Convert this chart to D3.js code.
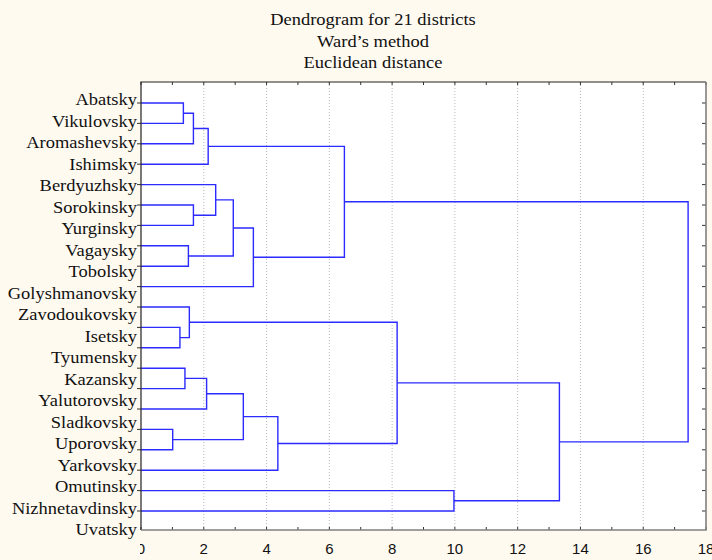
<!DOCTYPE html>
<html><head><meta charset="utf-8">
<script src="https://cdn.jsdelivr.net/npm/d3@7"></script>
<style>html,body{margin:0;padding:0;background:#fffaf0;} svg{display:block}</style>
</head><body><svg id="chart" width="712" height="560"></svg>
<script>
const titleLines = ["Dendrogram for 21 districts", "Ward\u2019s method", "Euclidean distance"];
const districts = ["Abatsky","Vikulovsky","Aromashevsky","Ishimsky","Berdyuzhsky","Sorokinsky","Yurginsky","Vagaysky","Tobolsky","Golyshmanovsky","Zavodoukovsky","Isetsky","Tyumensky","Kazansky","Yalutorovsky","Sladkovsky","Uporovsky","Yarkovsky","Omutinsky","Nizhnetavdinsky","Uvatsky"];
// linkage: node ids 0..20 are leaves, 21+k is the cluster formed by merge k
const mergeLeft   = [0, 21, 22, 5, 4, 7, 25, 27, 23, 11, 10, 13, 32, 16, 33, 35, 31, 19, 37, 29];
const mergeRight  = [1, 2, 3, 6, 24, 8, 26, 9, 28, 12, 30, 14, 15, 17, 34, 18, 36, 20, 38, 39];
const mergeHeight = [1.35, 1.67, 2.14, 1.67, 2.38, 1.51, 2.94, 3.58, 6.48, 1.24, 1.54, 1.40, 2.09, 1.01, 3.26, 4.36, 8.16, 9.97, 13.33, 17.43];
const xTicks = d3.range(0, 19);
const xTickLabels = [0, 2, 4, 6, 8, 10, 12, 14, 16, 18];

const svg = d3.select("#chart");
const W = 712, H = 560;
const plot = {left: 141, right: 706, top: 82, bottom: 530};

svg.append("rect").attr("width", W).attr("height", H).attr("fill", "#fffaf0");

const x = d3.scaleLinear().domain([0, 18]).range([plot.left, plot.right]);
const yLeaf = d3.scalePoint().domain(d3.range(districts.length)).range([103, 511]);
const yLabel = d3.scalePoint().domain(districts).range([105, 535]);

// plot background
svg.append("rect").attr("x", plot.left).attr("y", plot.top)
  .attr("width", plot.right - plot.left).attr("height", plot.bottom - plot.top)
  .attr("fill", "#ffffff");

// grid
svg.append("g").selectAll("line").data(xTickLabels.filter(v => v > 0 && v < 18)).join("line")
  .attr("x1", d => x(d)).attr("x2", d => x(d))
  .attr("y1", plot.top).attr("y2", plot.bottom)
  .attr("stroke", "#b8b8b8").attr("stroke-width", 1).attr("stroke-dasharray", "1,2");

// title
const title = svg.append("g");
titleLines.forEach((t, i) => {
  title.append("text")
    .attr("transform", `translate(373,${25 + i * 21.5}) scale(1.12,1)`)
    .attr("text-anchor", "middle")
    .attr("font-family", "'Liberation Serif', 'Times New Roman', serif")
    .attr("font-size", 16.5).attr("fill", "#111").text(t);
});

// dendrogram
const nLeaf = districts.length;
const pos = [], hgt = [];
for (let i = 0; i < nLeaf; i++) { pos[i] = yLeaf(i); hgt[i] = 0; }
mergeHeight.forEach((h, k) => {
  const a = mergeLeft[k], b = mergeRight[k];
  pos[nLeaf + k] = (pos[a] + pos[b]) / 2;
  hgt[nLeaf + k] = h;
});
const links = mergeHeight.map((h, k) => ({a: mergeLeft[k], b: mergeRight[k], h}));
svg.append("g").selectAll("path").data(links).join("path")
  .attr("d", d => `M${x(hgt[d.a])},${pos[d.a]}H${x(d.h)}V${pos[d.b]}H${x(hgt[d.b])}`)
  .attr("fill", "none").attr("stroke", "#2b2bff").attr("stroke-width", 1.4);

// left ticks (outward) and right ticks (inward)
const tk = svg.append("g").attr("stroke", "#333").attr("stroke-width", 1);
d3.range(nLeaf).forEach(i => {
  tk.append("line").attr("x1", plot.left - 4).attr("x2", plot.left).attr("y1", yLeaf(i)).attr("y2", yLeaf(i));
  tk.append("line").attr("x1", plot.right - 4).attr("x2", plot.right).attr("y1", yLeaf(i)).attr("y2", yLeaf(i));
});
// top & bottom ticks (inward)
xTicks.forEach(v => {
  tk.append("line").attr("x1", x(v)).attr("x2", x(v)).attr("y1", plot.top).attr("y2", plot.top + 3);
  tk.append("line").attr("x1", x(v)).attr("x2", x(v)).attr("y1", plot.bottom - 3).attr("y2", plot.bottom);
});

// frame
svg.append("path").attr("d", `M${plot.left},${plot.bottom}V${plot.top}H${plot.right}`)
  .attr("fill", "none").attr("stroke", "#222").attr("stroke-width", 1.2);
svg.append("path").attr("d", `M${plot.left},${plot.bottom}H${plot.right}V${plot.top}`)
  .attr("fill", "none").attr("stroke", "#808080").attr("stroke-width", 1.6);

// left labels
svg.append("g").selectAll("text").data(districts).join("text")
  .attr("transform", d => `translate(137,${yLabel(d)}) scale(1.12,1)`)
  .attr("text-anchor", "end")
  .attr("font-family", "'Liberation Serif', 'Times New Roman', serif")
  .attr("font-size", 16.5).attr("fill", "#111").text(d => d);

// bottom tick labels (clipped at the plot's left edge like the original)
svg.append("clipPath").attr("id", "xlabclip").append("rect")
  .attr("x", plot.left - 1).attr("y", plot.bottom).attr("width", W).attr("height", H - plot.bottom);
svg.append("g").attr("clip-path", "url(#xlabclip)").selectAll("text").data(xTickLabels).join("text")
  .attr("x", d => x(d)).attr("y", 554)
  .attr("text-anchor", "middle")
  .attr("font-family", "'Liberation Sans', Arial, sans-serif")
  .attr("font-size", 15).attr("fill", "#111").text(d => d);
</script>
</body></html>
